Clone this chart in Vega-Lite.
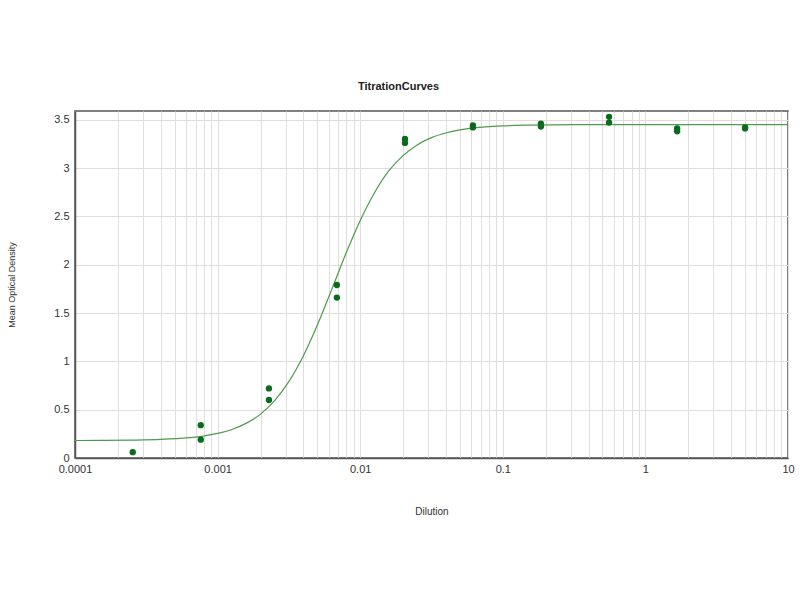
{
  "$schema": "https://vega.github.io/schema/vega-lite/v6.json",
  "autosize": {"type": "none"},
  "width": 713,
  "height": 347,
  "padding": {"left": 75, "top": 111, "right": 12, "bottom": 142},
  "background": "white",
  "config": {
    "font": "Liberation Sans",
    "view": {"stroke": "#555555", "strokeWidth": 1.5},
    "axis": {"labelFont": "Liberation Sans", "titleFont": "Liberation Sans", "labelColor": "#333333", "titleColor": "#333333", "titleFontWeight": "normal", "gridColor": "#dedede", "gridWidth": 1, "domainColor": "#555555", "domainWidth": 1.5, "ticks": false}
  },
  "title": {"text": "TitrationCurves", "fontSize": 11, "fontWeight": "bold", "color": "#222222", "offset": 19, "dx": -33, "font": "Liberation Sans"},
  "datasets": {
    "points": [
      {"dilution": 0.000254, "od": 0.06},
      {"dilution": 0.000762, "od": 0.34},
      {"dilution": 0.000762, "od": 0.19},
      {"dilution": 0.00229, "od": 0.72},
      {"dilution": 0.00229, "od": 0.60},
      {"dilution": 0.00686, "od": 1.79},
      {"dilution": 0.00686, "od": 1.66},
      {"dilution": 0.0206, "od": 3.30},
      {"dilution": 0.0206, "od": 3.26},
      {"dilution": 0.0617, "od": 3.44},
      {"dilution": 0.0617, "od": 3.42},
      {"dilution": 0.185, "od": 3.46},
      {"dilution": 0.185, "od": 3.43},
      {"dilution": 0.556, "od": 3.53},
      {"dilution": 0.556, "od": 3.47},
      {"dilution": 1.67, "od": 3.41},
      {"dilution": 1.67, "od": 3.38},
      {"dilution": 5.0, "od": 3.42},
      {"dilution": 5.0, "od": 3.41}
    ],
    "curve": [
      {"dilution": 0.0001, "od": 0.181},
      {"dilution": 0.000158, "od": 0.182},
      {"dilution": 0.000251, "od": 0.185},
      {"dilution": 0.000398, "od": 0.192},
      {"dilution": 0.000631, "od": 0.210},
      {"dilution": 0.000794, "od": 0.227},
      {"dilution": 0.001, "od": 0.254},
      {"dilution": 0.00126, "od": 0.295},
      {"dilution": 0.00158, "od": 0.358},
      {"dilution": 0.002, "od": 0.454},
      {"dilution": 0.00251, "od": 0.594},
      {"dilution": 0.00316, "od": 0.790},
      {"dilution": 0.00398, "od": 1.053},
      {"dilution": 0.00501, "od": 1.376},
      {"dilution": 0.00631, "od": 1.742},
      {"dilution": 0.00794, "od": 2.115},
      {"dilution": 0.01, "od": 2.458},
      {"dilution": 0.0126, "od": 2.745},
      {"dilution": 0.0158, "od": 2.967},
      {"dilution": 0.02, "od": 3.128},
      {"dilution": 0.0251, "od": 3.239},
      {"dilution": 0.0316, "od": 3.314},
      {"dilution": 0.0398, "od": 3.362},
      {"dilution": 0.0501, "od": 3.394},
      {"dilution": 0.0631, "od": 3.415},
      {"dilution": 0.1, "od": 3.436},
      {"dilution": 0.158, "od": 3.444},
      {"dilution": 0.316, "od": 3.449},
      {"dilution": 1, "od": 3.45},
      {"dilution": 3.16, "od": 3.45},
      {"dilution": 10, "od": 3.45}
    ]
  },
  "layer": [
    {
      "data": {"name": "curve"},
      "mark": {"type": "line", "color": "#4e9a4e", "strokeWidth": 1.2, "interpolate": "monotone"},
      "encoding": {
        "x": {"field": "dilution", "type": "quantitative", "scale": {"type": "log", "domain": [0.0001, 10], "nice": false},
          "axis": {"title": "Dilution", "titleFontSize": 10, "titlePadding": 32, "labelFontSize": 11, "labelFlush": false, "labelOverlap": false, "labelPadding": 5,
            "labelExpr": "abs(log(datum.value)/LN10 - round(log(datum.value)/LN10)) < 0.01 ? format(datum.value, '~g') : ''"}},
        "y": {"field": "od", "type": "quantitative", "scale": {"domain": [0, 3.59], "nice": false},
          "axis": {"title": "Mean Optical Density", "titleFontSize": 9, "titlePadding": 37, "labelFontSize": 11, "format": "~g", "values": [0, 0.5, 1, 1.5, 2, 2.5, 3, 3.5], "labelPadding": 6}}
      }
    },
    {
      "data": {"name": "points"},
      "mark": {"type": "circle", "color": "#0a6b1c", "opacity": 1, "size": 40},
      "encoding": {
        "x": {"field": "dilution", "type": "quantitative"},
        "y": {"field": "od", "type": "quantitative"}
      }
    }
  ]
}
